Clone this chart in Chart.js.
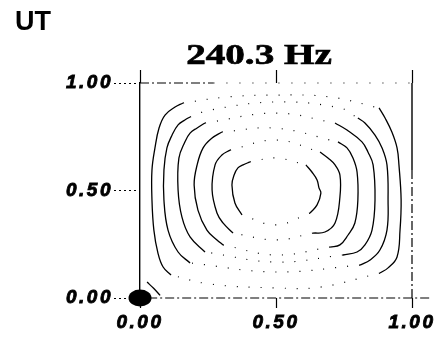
<!DOCTYPE html>
<html>
<head>
<meta charset="utf-8">
<script src="https://cdn.jsdelivr.net/npm/chart.js@4/dist/chart.umd.min.js"></script>
<style>
  html, body { margin: 0; padding: 0; background: #fff; }
  #wrap { width: 442px; height: 338px; }
</style>
</head>
<body>
<div id="wrap"><canvas id="c" width="442" height="338"></canvas></div>
<script>
// Achsen / Texte
const xTickValues = [0, 0.5, 1];
const yTickValues = [0, 0.5, 1];
const titleText = '240.3 Hz';
const panelLabel = 'UT';

// Konturlinien ([x, y]), aussen -> innen
// left: unten -> oben, right: oben -> unten, top/bottom: Verbindung (gepunktet)
const c1Left = [[0.114,0.107],[0.085,0.144],[0.066,0.209],[0.051,0.316],[0.044,0.456],[0.044,0.595],[0.055,0.698],[0.070,0.791],[0.092,0.851],[0.129,0.888],[0.158,0.907]];
const c1Top = [[0.32,0.935],[0.5,0.944],[0.70,0.935]];
const c1Right = [[0.879,0.884],[0.901,0.837],[0.926,0.772],[0.945,0.698],[0.952,0.619],[0.960,0.456],[0.956,0.316],[0.945,0.191],[0.912,0.140],[0.882,0.116]];
const c1Bottom = [[0.66,0.05],[0.5,0.047],[0.257,0.065]];

const c2Left = [[0.184,0.163],[0.140,0.214],[0.103,0.316],[0.088,0.456],[0.088,0.595],[0.099,0.698],[0.118,0.758],[0.140,0.805],[0.165,0.828],[0.184,0.842]];
const c2Top = [[0.257,0.874],[0.5,0.912],[0.735,0.884]];
const c2Right = [[0.801,0.837],[0.827,0.814],[0.864,0.758],[0.890,0.698],[0.908,0.619],[0.912,0.456],[0.908,0.316],[0.882,0.223],[0.846,0.177],[0.809,0.153]];
const c2Bottom = [[0.5,0.121]];

const c3Left = [[0.239,0.214],[0.184,0.284],[0.154,0.377],[0.140,0.502],[0.143,0.651],[0.165,0.726],[0.184,0.767],[0.210,0.791],[0.239,0.814]];
const c3Top = [[0.5,0.86]];
const c3Right = [[0.717,0.814],[0.761,0.781],[0.816,0.726],[0.838,0.679],[0.857,0.619],[0.864,0.456],[0.853,0.316],[0.827,0.247],[0.798,0.214],[0.746,0.2]];
const c3Bottom = [[0.5,0.167]];

const c4Left = [[0.305,0.247],[0.283,0.270],[0.246,0.316],[0.213,0.409],[0.199,0.526],[0.210,0.619],[0.232,0.698],[0.265,0.744],[0.301,0.772]];
const c4Top = [[0.5,0.79]];
const c4Right = [[0.728,0.726],[0.761,0.698],[0.783,0.651],[0.798,0.586],[0.801,0.456],[0.790,0.349],[0.765,0.293],[0.735,0.247],[0.699,0.237]];
const c4Bottom = [[0.5,0.2]];

const c5Left = [[0.342,0.302],[0.305,0.349],[0.283,0.395],[0.265,0.502],[0.276,0.619],[0.301,0.665],[0.331,0.688]];
const c5Top = [[0.5,0.735]];
const c5Right = [[0.662,0.679],[0.691,0.651],[0.717,0.619],[0.735,0.572],[0.735,0.470],[0.717,0.349],[0.680,0.307],[0.636,0.302]];
const c5Bottom = [[0.5,0.27]];

const c6Left = [[0.375,0.386],[0.349,0.442],[0.338,0.526],[0.346,0.572],[0.360,0.605],[0.379,0.619],[0.404,0.633]];
const c6Top = [[0.5,0.651]];
const c6Right = [[0.610,0.619],[0.632,0.586],[0.651,0.549],[0.658,0.512],[0.665,0.488],[0.651,0.433],[0.625,0.395]];
const c6Bottom = [[0.5,0.34]];

// kleine Linie in der Ecke unten links
const cornerArc = [[0.026,0.074],[0.05,0.045],[0.074,0.012]];
// Knotenpunkt (schwarzer Fleck)
const nodePoint = [[0, 0]];

// Rahmen
const frameTopDash = [[0,1],[0.27,1]];
const frameTopDots = [[0.27,1],[1.03,1]];
const frameBottom = [[0.03,0],[1.07,0]];
const frameRightSolid = [[1,1],[1,0.595]];
const frameRightDash = [[1,0.595],[1,0]];

const contours = [
    [c1Left, c1Top, c1Right, c1Bottom],
    [c2Left, c2Top, c2Right, c2Bottom],
    [c3Left, c3Top, c3Right, c3Bottom],
    [c4Left, c4Top, c4Right, c4Bottom],
    [c5Left, c5Top, c5Right, c5Bottom],
    [c6Left, c6Top, c6Right, c6Bottom]
];

const solid = data => ({ data, borderColor: '#000', borderWidth: 1.3, tension: 0.4 });
const dotted = data => ({ data, borderColor: '#000', borderWidth: 1.2, tension: 0.4, borderDash: [1, 11] });
const dashDot = data => ({ data, borderColor: '#000', borderWidth: 1.2, borderDash: [9, 3, 2, 3] });

const datasets = [];
contours.forEach(([left, top, right, bottom]) => {
    datasets.push(solid(left));
    datasets.push(solid(right));
    datasets.push(dotted([left[left.length - 1], ...top, right[0]]));
    datasets.push(dotted([right[right.length - 1], ...bottom, left[0]]));
});
datasets.push(solid(cornerArc));
datasets.push(dashDot(frameTopDash));
datasets.push({ data: frameTopDots, borderColor: '#000', borderWidth: 1.2, borderDash: [1, 12] });
datasets.push(dashDot(frameBottom));
datasets.push({ data: frameRightSolid, borderColor: '#000', borderWidth: 1.4 });
datasets.push(dashDot(frameRightDash));

// Ellipse als Punktstil
const blob = document.createElement('canvas');
blob.width = 24; blob.height = 18;
const bctx = blob.getContext('2d');
bctx.fillStyle = '#000';
bctx.beginPath();
bctx.ellipse(12, 9, 11.5, 8.5, 0, 0, Math.PI * 2);
bctx.fill();
datasets.push({ data: nodePoint, showLine: false, pointStyle: blob, pointRadius: 10 });

const tickFont = { family: '"Liberation Sans", Arial, sans-serif', size: 19, weight: 'bold', style: 'italic' };

const spacedTicks = {
    id: 'spacedTicks',
    beforeDraw(chart) { chart.ctx.letterSpacing = '2.5px'; },
    afterDraw(chart) { chart.ctx.letterSpacing = '0px'; }
};

const headText = {
    id: 'headText',
    afterDraw(chart) {
        const ctx = chart.ctx;
        ctx.save();
        ctx.letterSpacing = '0px';
        ctx.fillStyle = '#000';
        ctx.strokeStyle = '#000';
        ctx.textBaseline = 'alphabetic';
        ctx.font = 'bold 27px "Liberation Sans", Arial, sans-serif';
        ctx.fillText(panelLabel, 15, 30);
        ctx.translate(259, 64);
        ctx.scale(1.35, 1);
        ctx.font = 'bold 29px "Liberation Serif", "Times New Roman", serif';
        ctx.textAlign = 'center';
        ctx.lineWidth = 0.7;
        ctx.fillText(titleText, 0, 0);
        ctx.strokeText(titleText, 0, 0);
        ctx.restore();
    }
};

new Chart(document.getElementById('c'), {
    type: 'scatter',
    data: { datasets },
    options: {
        responsive: false,
        animation: false,
        events: [],
        clip: false,
        layout: { padding: { top: 70, right: 30, left: 0, bottom: 0 } },
        elements: { point: { radius: 0 }, line: { fill: false } },
        datasets: { scatter: { showLine: true, clip: false } },
        plugins: { legend: { display: false }, tooltip: { enabled: false }, title: { display: false } },
        scales: {
            x: {
                type: 'linear', position: 'bottom', min: 0, max: 1,
                afterBuildTicks: s => { s.ticks = xTickValues.map(v => ({ value: v })); },
                afterFit: s => { s.height = 40; },
                grid: { drawOnChartArea: false, drawTicks: true, tickLength: 10, tickColor: '#000', tickWidth: 1.2 },
                border: { display: false },
                ticks: { color: '#000', font: tickFont, padding: 3, maxRotation: 0, textStrokeColor: '#000', textStrokeWidth: 0.8, callback: v => Number(v).toFixed(2) }
            },
            x2: {
                type: 'linear', position: 'top', min: 0, max: 1,
                afterBuildTicks: s => { s.ticks = xTickValues.map(v => ({ value: v })); },
                afterFit: s => { s.height = 13; },
                grid: { drawOnChartArea: false, drawTicks: true, tickLength: 13, tickColor: '#000', tickWidth: 1.2 },
                border: { display: false },
                ticks: { display: false }
            },
            y: {
                type: 'linear', position: 'left', min: 0, max: 1,
                afterBuildTicks: s => { s.ticks = yTickValues.map(v => ({ value: v })); },
                afterFit: s => { s.width = 140; },
                grid: { drawOnChartArea: false, drawTicks: true, tickLength: 26, tickColor: '#000', tickBorderDash: [2, 3], tickWidth: 1 },
                border: { display: true, color: '#000', width: 1.4 },
                ticks: { color: '#000', font: tickFont, padding: 1, textStrokeColor: '#000', textStrokeWidth: 0.8, callback: v => Number(v).toFixed(2) }
            }
        }
    },
    plugins: [spacedTicks, headText]
});
</script>
</body>
</html>
